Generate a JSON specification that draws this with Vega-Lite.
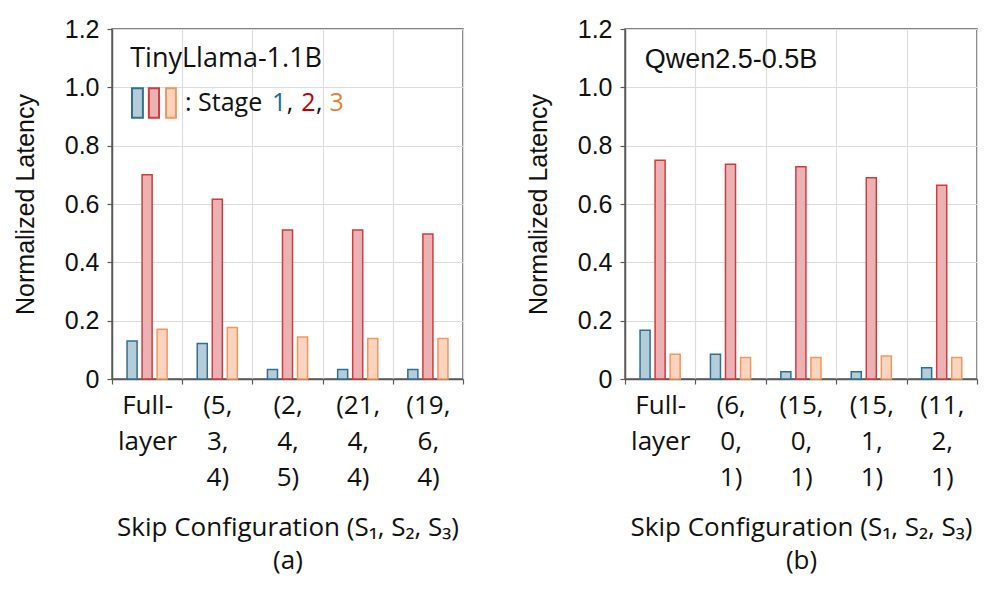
{
  "$schema": "https://vega.github.io/schema/vega-lite/v6.json",
  "padding": {"left": 12, "top": 16, "right": 10, "bottom": 10},
  "background": "white",
  "config": {
    "view": {"stroke": "#595959", "strokeWidth": 1.5},
    "concat": {"spacing": 60},
    "axis": {"gridColor": "#dcdcdc", "gridWidth": 1.2, "domainColor": "#595959", "tickColor": "#595959", "domainWidth": 1.5, "tickWidth": 1.2}
  },
  "datasets": {
    "a": [
      {"cfg": "Full-|layer", "o": 1, "stage": "Stage 1", "v": 0.130},
      {"cfg": "Full-|layer", "o": 1, "stage": "Stage 2", "v": 0.700},
      {"cfg": "Full-|layer", "o": 1, "stage": "Stage 3", "v": 0.171},
      {"cfg": "(5,|3,|4)", "o": 2, "stage": "Stage 1", "v": 0.122},
      {"cfg": "(5,|3,|4)", "o": 2, "stage": "Stage 2", "v": 0.616},
      {"cfg": "(5,|3,|4)", "o": 2, "stage": "Stage 3", "v": 0.177},
      {"cfg": "(2,|4,|5)", "o": 3, "stage": "Stage 1", "v": 0.033},
      {"cfg": "(2,|4,|5)", "o": 3, "stage": "Stage 2", "v": 0.511},
      {"cfg": "(2,|4,|5)", "o": 3, "stage": "Stage 3", "v": 0.144},
      {"cfg": "(21,|4,|4)", "o": 4, "stage": "Stage 1", "v": 0.033},
      {"cfg": "(21,|4,|4)", "o": 4, "stage": "Stage 2", "v": 0.511},
      {"cfg": "(21,|4,|4)", "o": 4, "stage": "Stage 3", "v": 0.139},
      {"cfg": "(19,|6,|4)", "o": 5, "stage": "Stage 1", "v": 0.033},
      {"cfg": "(19,|6,|4)", "o": 5, "stage": "Stage 2", "v": 0.497},
      {"cfg": "(19,|6,|4)", "o": 5, "stage": "Stage 3", "v": 0.139}
    ],
    "b": [
      {"cfg": "Full-|layer", "o": 1, "stage": "Stage 1", "v": 0.167},
      {"cfg": "Full-|layer", "o": 1, "stage": "Stage 2", "v": 0.750},
      {"cfg": "Full-|layer", "o": 1, "stage": "Stage 3", "v": 0.085},
      {"cfg": "(6,|0,|1)", "o": 2, "stage": "Stage 1", "v": 0.085},
      {"cfg": "(6,|0,|1)", "o": 2, "stage": "Stage 2", "v": 0.736},
      {"cfg": "(6,|0,|1)", "o": 2, "stage": "Stage 3", "v": 0.074},
      {"cfg": "(15,|0,|1)", "o": 3, "stage": "Stage 1", "v": 0.025},
      {"cfg": "(15,|0,|1)", "o": 3, "stage": "Stage 2", "v": 0.728},
      {"cfg": "(15,|0,|1)", "o": 3, "stage": "Stage 3", "v": 0.074},
      {"cfg": "(15,|1,|1)", "o": 4, "stage": "Stage 1", "v": 0.025},
      {"cfg": "(15,|1,|1)", "o": 4, "stage": "Stage 2", "v": 0.690},
      {"cfg": "(15,|1,|1)", "o": 4, "stage": "Stage 3", "v": 0.079},
      {"cfg": "(11,|2,|1)", "o": 5, "stage": "Stage 1", "v": 0.039},
      {"cfg": "(11,|2,|1)", "o": 5, "stage": "Stage 2", "v": 0.664},
      {"cfg": "(11,|2,|1)", "o": 5, "stage": "Stage 3", "v": 0.074}
    ],
    "legendA": [
      {"stage": "Stage 1", "x1": 5.7, "x2": 8.8, "y1": 0.896, "y2": 0.997},
      {"stage": "Stage 2", "x1": 10.5, "x2": 13.4, "y1": 0.896, "y2": 0.997},
      {"stage": "Stage 3", "x1": 15.4, "x2": 18.2, "y1": 0.896, "y2": 0.997}
    ],
    "titleA": [
      {"t": "TinyLlama-1.1B", "x": 5.2, "y": 1.098, "c": "#111111"}
    ],
    "textA": [
      {"t": ": Stage", "x": 20.8, "y": 0.946, "c": "#111111"},
      {"t": "1", "x": 45.6, "y": 0.946, "c": "#1f6b96"},
      {"t": ",", "x": 49.8, "y": 0.946, "c": "#111111"},
      {"t": "2", "x": 53.9, "y": 0.946, "c": "#c00000"},
      {"t": ",", "x": 58.1, "y": 0.946, "c": "#111111"},
      {"t": "3", "x": 62.0, "y": 0.946, "c": "#ed7d31"}
    ],
    "textB": [
      {"t": "Qwen2.5-0.5B", "x": 5.6, "y": 1.094, "c": "#111111"}
    ]
  },
  "hconcat": [
    {
      "width": 351,
      "height": 350,
      "resolve": {"scale": {"x": "independent"}},
      "layer": [
        {
          "data": {"name": "a"},
          "mark": {"type": "bar", "strokeWidth": 1.5, "fillOpacity": 1},
          "encoding": {
            "x": {"field": "cfg", "type": "nominal", "sort": {"field": "o"},
              "scale": {"paddingInner": 0, "paddingOuter": 0},
              "axis": {"title": ["Skip Configuration (S₁, S₂, S₃)", "(a)"], "labelAngle": 0, "tickBand": "extent", "grid": true, "labelExpr": "split(datum.label, '|')", "labelFont": "Open Sans", "labelFontSize": 26, "labelLineHeight": 36, "labelPadding": 8, "labelBaseline": "top", "labelColor": "#111111", "tickSize": 5, "titleFont": "Open Sans", "titleFontSize": 26, "titleFontWeight": "normal", "titleColor": "#111111", "titlePadding": 24, "titleLineHeight": 33}},
            "xOffset": {"field": "stage", "type": "nominal", "scale": {"paddingInner": 0.333, "paddingOuter": 1.0}},
            "y": {"field": "v", "type": "quantitative", "scale": {"domain": [0, 1.2]},
              "axis": {"title": "Normalized Latency", "values": [0, 0.2, 0.4, 0.6, 0.8, 1.0, 1.2], "labelExpr": "datum.value == 0 ? '0' : format(datum.value, '.1f')", "labelFont": "Liberation Sans", "labelFontSize": 25, "labelColor": "#111111", "labelPadding": 8, "tickSize": 5, "titleFont": "Liberation Sans", "titleFontSize": 25, "titleFontWeight": "normal", "titleColor": "#111111", "titlePadding": 26}},
            "fill": {"field": "stage", "type": "nominal", "scale": {"domain": ["Stage 1", "Stage 2", "Stage 3"], "range": ["#b5cdd8", "#ebb2b3", "#fad4bf"]}, "legend": null},
            "stroke": {"field": "stage", "type": "nominal", "scale": {"domain": ["Stage 1", "Stage 2", "Stage 3"], "range": ["#2f6f94", "#d33a3e", "#f4965a"]}, "legend": null}
          }
        },
        {
          "data": {"name": "legendA"},
          "mark": {"type": "rect", "strokeWidth": 2},
          "encoding": {
            "x": {"field": "x1", "type": "quantitative", "scale": {"domain": [0, 100]}, "axis": null},
            "x2": {"field": "x2"},
            "y": {"field": "y1", "type": "quantitative"},
            "y2": {"field": "y2"},
            "fill": {"field": "stage", "type": "nominal", "legend": null},
            "stroke": {"field": "stage", "type": "nominal", "legend": null}
          }
        },
        {
          "data": {"name": "titleA"},
          "mark": {"type": "text", "align": "left", "baseline": "middle", "font": "Open Sans", "fontSize": 27},
          "encoding": {
            "x": {"field": "x", "type": "quantitative", "scale": {"domain": [0, 100]}, "axis": null},
            "y": {"field": "y", "type": "quantitative"},
            "text": {"field": "t"},
            "color": {"field": "c", "type": "nominal", "scale": null}
          }
        },
        {
          "data": {"name": "textA"},
          "mark": {"type": "text", "align": "left", "baseline": "middle", "font": "Open Sans", "fontSize": 25},
          "encoding": {
            "x": {"field": "x", "type": "quantitative", "scale": {"domain": [0, 100]}, "axis": null},
            "y": {"field": "y", "type": "quantitative"},
            "text": {"field": "t"},
            "color": {"field": "c", "type": "nominal", "scale": null}
          }
        }
      ]
    },
    {
      "width": 352,
      "height": 350,
      "resolve": {"scale": {"x": "independent"}},
      "layer": [
        {
          "data": {"name": "b"},
          "mark": {"type": "bar", "strokeWidth": 1.5, "fillOpacity": 1},
          "encoding": {
            "x": {"field": "cfg", "type": "nominal", "sort": {"field": "o"},
              "scale": {"paddingInner": 0, "paddingOuter": 0},
              "axis": {"title": ["Skip Configuration (S₁, S₂, S₃)", "(b)"], "labelAngle": 0, "tickBand": "extent", "grid": true, "labelExpr": "split(datum.label, '|')", "labelFont": "Open Sans", "labelFontSize": 26, "labelLineHeight": 36, "labelPadding": 8, "labelBaseline": "top", "labelColor": "#111111", "tickSize": 5, "titleFont": "Open Sans", "titleFontSize": 26, "titleFontWeight": "normal", "titleColor": "#111111", "titlePadding": 24, "titleLineHeight": 33}},
            "xOffset": {"field": "stage", "type": "nominal", "scale": {"paddingInner": 0.333, "paddingOuter": 1.0}},
            "y": {"field": "v", "type": "quantitative", "scale": {"domain": [0, 1.2]},
              "axis": {"title": "Normalized Latency", "values": [0, 0.2, 0.4, 0.6, 0.8, 1.0, 1.2], "labelExpr": "datum.value == 0 ? '0' : format(datum.value, '.1f')", "labelFont": "Liberation Sans", "labelFontSize": 25, "labelColor": "#111111", "labelPadding": 8, "tickSize": 5, "titleFont": "Liberation Sans", "titleFontSize": 25, "titleFontWeight": "normal", "titleColor": "#111111", "titlePadding": 26}},
            "fill": {"field": "stage", "type": "nominal", "scale": {"domain": ["Stage 1", "Stage 2", "Stage 3"], "range": ["#b5cdd8", "#ebb2b3", "#fad4bf"]}, "legend": null},
            "stroke": {"field": "stage", "type": "nominal", "scale": {"domain": ["Stage 1", "Stage 2", "Stage 3"], "range": ["#2f6f94", "#d33a3e", "#f4965a"]}, "legend": null}
          }
        },
        {
          "data": {"name": "textB"},
          "mark": {"type": "text", "align": "left", "baseline": "middle", "font": "Liberation Sans", "fontSize": 27},
          "encoding": {
            "x": {"field": "x", "type": "quantitative", "scale": {"domain": [0, 100]}, "axis": null},
            "y": {"field": "y", "type": "quantitative"},
            "text": {"field": "t"},
            "color": {"field": "c", "type": "nominal", "scale": null}
          }
        }
      ]
    }
  ]
}
